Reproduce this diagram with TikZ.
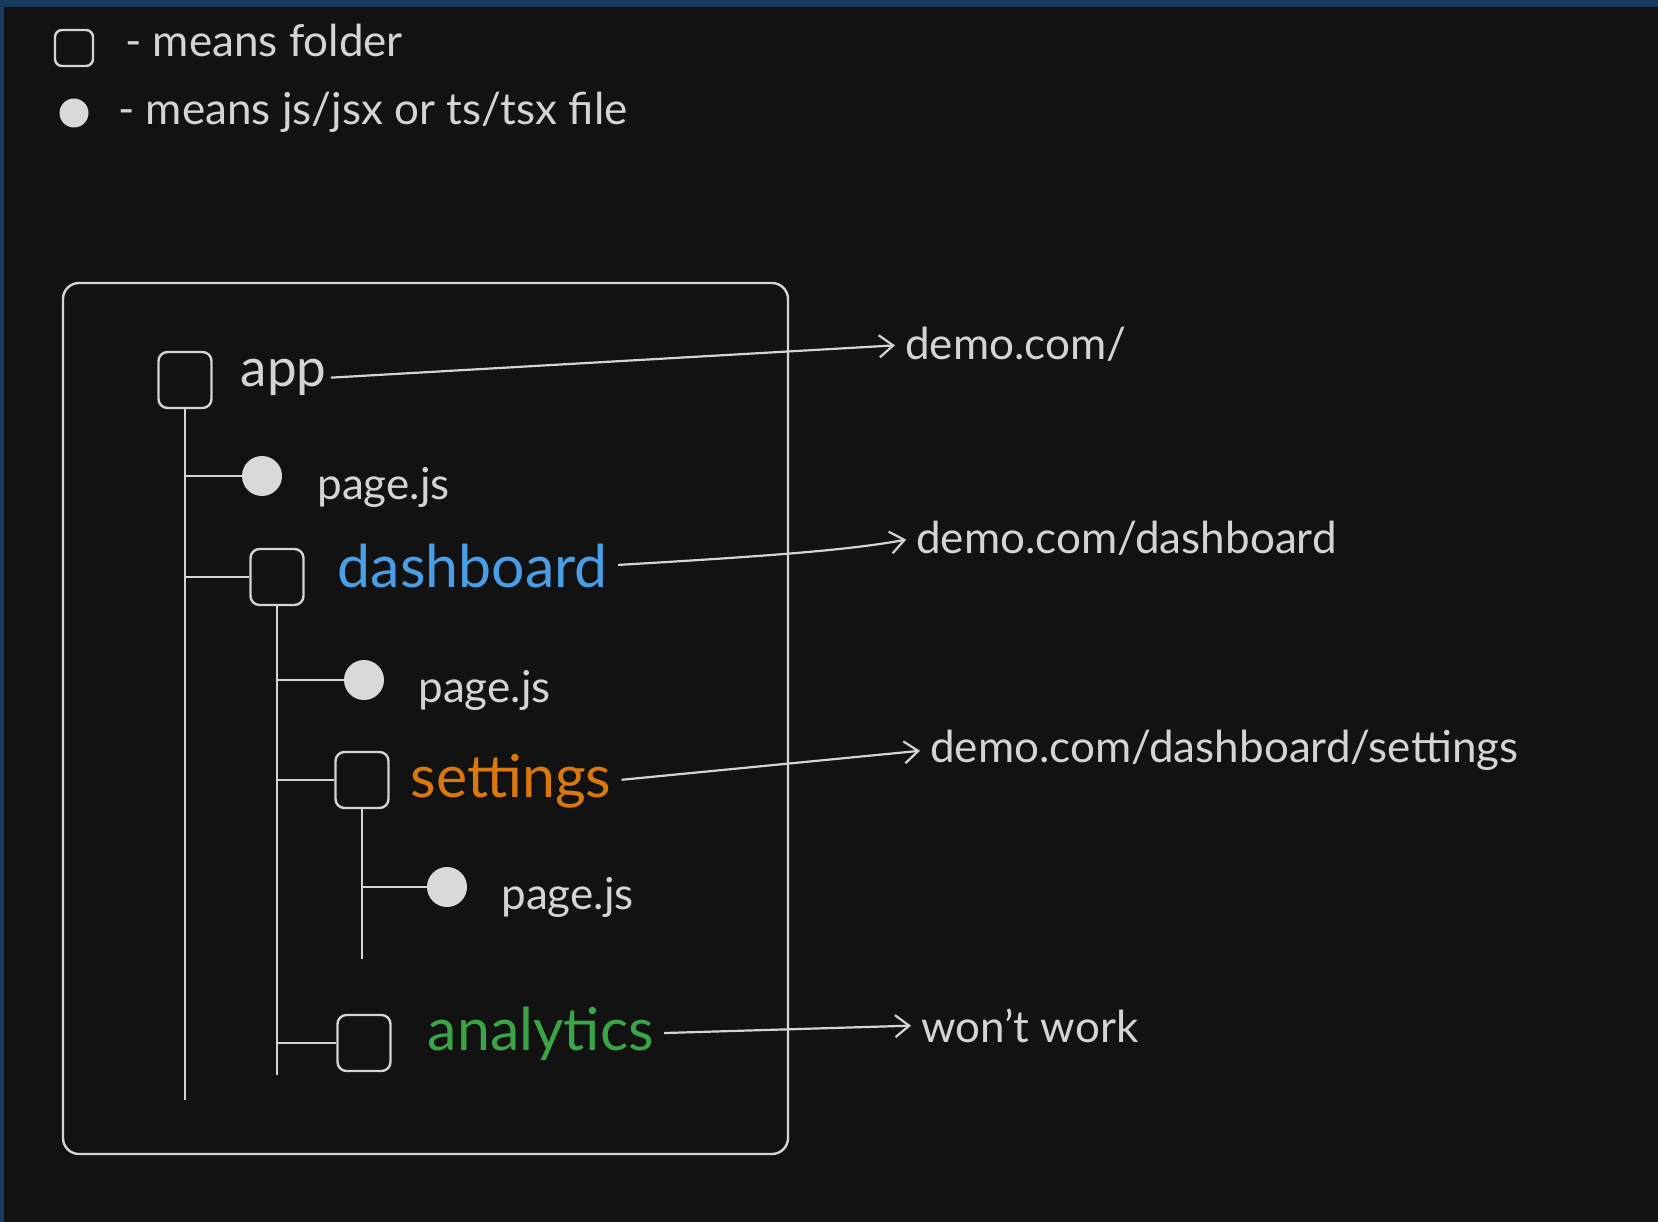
\documentclass[tikz,border=0pt]{standalone}
\usepackage{fontspec}
\setmainfont{Lato}
\usepackage{tikz}
\usetikzlibrary{positioning,arrows.meta}
\definecolor{bgdark}{HTML}{121212}
\definecolor{edgeblue}{HTML}{173A5E}
\definecolor{inkgray}{HTML}{D4D4D4}
\definecolor{dotgray}{HTML}{D9D9D9}
\definecolor{dashblue}{HTML}{4A9EE6}
\definecolor{settorange}{HTML}{D9780F}
\definecolor{analgreen}{HTML}{3AA447}

\begin{document}
\begin{tikzpicture}[x=1pt,y=-1pt,
folder/.style={draw=inkgray,line width=2.4pt,rounded corners=9pt,minimum width=53pt,minimum height=56pt,inner sep=0pt},
jsfile/.style={circle,fill=dotgray,minimum size=40pt,inner sep=0pt},
plain/.style={text=inkgray,inner sep=0pt,anchor=base west,font=\fontsize{44}{50}\selectfont},
dirname/.style={inner sep=0pt,anchor=base west,font=\fontsize{59}{66}\selectfont},
tree/.style={draw=inkgray,line width=2pt},
link/.style={draw=inkgray,line width=2.2pt,-{Straight Barb[length=14pt,width=22pt,line width=2.2pt]},shorten <=10pt,shorten >=10pt}]
\useasboundingbox (0,0) rectangle (1658,1222);
\fill[bgdark] (0,0) rectangle (1658,1222);
\fill[edgeblue] (0,0) rectangle (1658,7);
\fill[edgeblue] (0,0) rectangle (4,1222);

% legend
\node (keyfolder) [folder,minimum width=38pt,minimum height=36pt,rounded corners=7pt] at (74,48) {};
\node (keyfoldertxt) [plain] at (125,57) {- means folder};
\node (keyfile) [jsfile,minimum size=29pt] at (74,113) {};
\node (keyfiletxt) [plain] at (118,125) {- means js/jsx or ts/tsx file};

% frame
\draw[inkgray,line width=2.4pt,rounded corners=16pt] (63,283) rectangle (788,1154);

% tree
\node (app) [folder] at (185,380) {};
\node (applbl) [dirname,text=inkgray,font=\fontsize{53}{60}\selectfont,right=28pt of app,anchor=base west,yshift=-7pt] {app};
\node (appfile) [jsfile] at (262,476) {};
\node (appfilelbl) [plain,right=35pt of appfile,anchor=base west,yshift=-24pt] {page.js};
\node (dash) [folder] at (277,577) {};
\node (dashlbl) [dirname,text=dashblue,right=33pt of dash,anchor=base west,yshift=-10pt] {dashboard};
\node (dashfile) [jsfile] at (364,680) {};
\node (dashfilelbl) [plain,right=34pt of dashfile,anchor=base west,yshift=-22pt] {page.js};
\node (sett) [folder] at (362,780) {};
\node (settlbl) [dirname,text=settorange,right=21pt of sett,anchor=base west,yshift=-17pt] {settings};
\node (settfile) [jsfile] at (447,887) {};
\node (settfilelbl) [plain,right=34pt of settfile,anchor=base west,yshift=-22pt] {page.js};
\node (anal) [folder] at (364,1043) {};
\node (anallbl) [dirname,text=analgreen,right=36pt of anal,anchor=base west,yshift=-7pt] {analytics};

\coordinate (apptrunk) at (app.south |- 0,1100);
\coordinate (dashtrunk) at (dash.south |- 0,1075);
\coordinate (setttrunk) at (sett.south |- 0,959);
\draw[tree] (app.south) -- (apptrunk);
\draw[tree] (apptrunk |- appfile) -- (appfile);
\draw[tree] (apptrunk |- dash) -- (dash);
\draw[tree] (dash.south) -- (dashtrunk);
\draw[tree] (dashtrunk |- dashfile) -- (dashfile);
\draw[tree] (dashtrunk |- sett) -- (sett);
\draw[tree] (dashtrunk |- anal) -- (anal);
\draw[tree] (sett.south) -- (setttrunk);
\draw[tree] (setttrunk |- settfile) -- (settfile);

% routes
\node (appurl) [plain] at (905,360) {demo.com/};
\node (dashurl) [plain] at (916,553) {demo.com/dashboard};
\node (setturl) [plain] at (930,762) {demo.com/dashboard/settings};
\node (analurl) [plain] at (921,1042) {won't work};

\draw[link,shorten <=4pt] (applbl.east) -- (appurl.west);
\draw[link] (dashlbl.east) .. controls (770,556) and (850,550) .. (dashurl.west);
\draw[link] (settlbl.east) -- (setturl.west);
\draw[link] (anallbl.east) -- (analurl.west);
\end{tikzpicture}
\end{document}
